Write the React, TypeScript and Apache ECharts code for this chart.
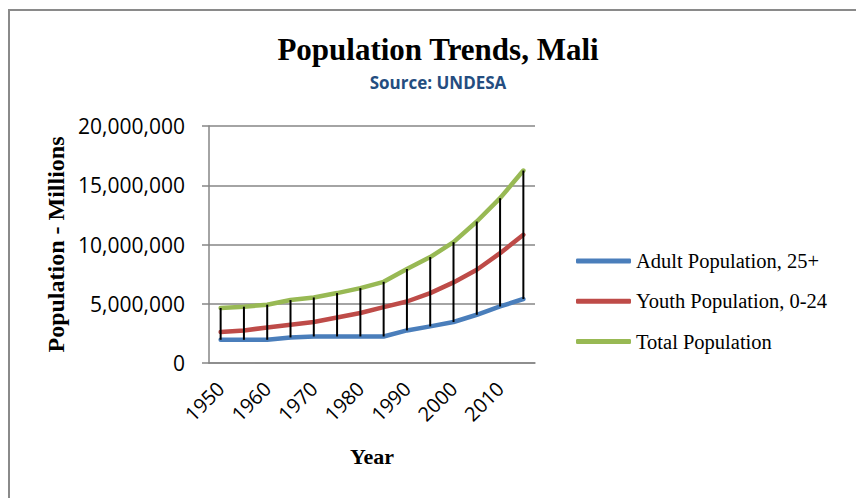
import React, { useEffect, useRef } from "react";
import * as echarts from "echarts";

const years = ["1950","1955","1960","1965","1970","1975","1980","1985","1990","1995","2000","2005","2010","2015"];
const adultPopulation = [1960000,1960000,1960000,2160000,2240000,2240000,2240000,2240000,2750000,3090000,3460000,4070000,4770000,5400000];
const youthPopulation = [2610000,2750000,3000000,3230000,3460000,3840000,4220000,4720000,5190000,5900000,6800000,7870000,9270000,10820000];
const totalPopulation = [4640000,4750000,4920000,5310000,5530000,5900000,6320000,6850000,7930000,8940000,10200000,11940000,13910000,16240000];
const seriesNames = ["Adult Population, 25+", "Youth Population, 0-24", "Total Population"];
const yTicks = { min: 0, max: 20000000, interval: 5000000 };

const SERIF = "'Liberation Serif', 'Times New Roman', serif";
const SANS = "'Open Sans', 'Liberation Sans', sans-serif";

export default function App() {
  const ref = useRef<HTMLDivElement>(null);
  useEffect(() => {
    if (!ref.current) return;
    const chart = echarts.init(ref.current, null, { renderer: "svg" });
    const dropData = years.map((_, i) => [i, adultPopulation[i], totalPopulation[i]]);
    const lineStyle = (c: string) => ({ color: c, width: 4.5, cap: "round", join: "round" });
    chart.setOption({
      animation: false,
      backgroundColor: "#ffffff",
      grid: { left: 209, right: 321, top: 126, bottom: 135, containLabel: false },
      graphic: [
        { type: "rect", shape: { x: 9, y: 10, width: 900, height: 600 }, style: { fill: "none", stroke: "#8a8a8a", lineWidth: 2 }, silent: true },
        { type: "text", x: 438, y: 49.5, style: { text: "Population Trends, Mali", font: `bold 31px ${SERIF}`, fill: "#000", textAlign: "center", textVerticalAlign: "middle" } },
        { type: "text", x: 438, y: 82, style: { text: "Source: UNDESA", font: `bold 17px ${SANS}`, fill: "#244D80", textAlign: "center", textVerticalAlign: "middle" } },
        { type: "text", x: 56, y: 244.5, rotation: Math.PI / 2, style: { text: "Population - Millions", font: `bold 24px ${SERIF}`, fill: "#000", textAlign: "center", textVerticalAlign: "middle" } },
        { type: "text", x: 372, y: 456.6, style: { text: "Year", font: `bold 22px ${SERIF}`, fill: "#000", textAlign: "center", textVerticalAlign: "middle" } },
      ],
      legend: {
        orient: "vertical",
        left: 576,
        top: 250.5,
        padding: 0,
        itemWidth: 55,
        itemHeight: 5,
        itemGap: 19.3,
        icon: "roundRect",
        data: seriesNames,
        textStyle: { fontFamily: SERIF, fontSize: 20.5, color: "#000" },
      },
      xAxis: {
        type: "category",
        data: years,
        boundaryGap: true,
        axisLine: { lineStyle: { color: "#868686", width: 1.5 } },
        axisTick: { show: false },
        axisLabel: { interval: 1, rotate: 45, margin: 22, fontFamily: SANS, fontSize: 20, color: "#000" },
        splitLine: { show: false },
      },
      yAxis: {
        type: "value",
        min: yTicks.min,
        max: yTicks.max,
        interval: yTicks.interval,
        axisLine: { show: true, lineStyle: { color: "#868686", width: 1.5 } },
        axisTick: { show: true, inside: false, length: 7, lineStyle: { color: "#868686", width: 1.5 } },
        axisLabel: { margin: 24, fontFamily: SANS, fontSize: 21, color: "#000", formatter: (v: number) => v.toLocaleString("en-US") },
        splitLine: { show: true, lineStyle: { color: "#868686", width: 1.5 } },
      },
      series: [
        { name: seriesNames[0], type: "line", data: adultPopulation, showSymbol: false, symbol: "none", color: "#4A7EBB", lineStyle: lineStyle("#4A7EBB"), z: 3 },
        { name: seriesNames[1], type: "line", data: youthPopulation, showSymbol: false, symbol: "none", color: "#BE4B48", lineStyle: lineStyle("#BE4B48"), z: 3 },
        { name: seriesNames[2], type: "line", data: totalPopulation, showSymbol: false, symbol: "none", color: "#98B954", lineStyle: lineStyle("#98B954"), z: 3 },
        {
          type: "custom",
          data: dropData,
          z: 4,
          silent: true,
          renderItem: (params: any, api: any) => {
            const lo = api.coord([api.value(0), api.value(1)]);
            const hi = api.coord([api.value(0), api.value(2)]);
            return { type: "line", shape: { x1: lo[0], y1: lo[1], x2: hi[0], y2: hi[1] }, style: { stroke: "#000", lineWidth: 2 } };
          },
        },
      ],
    });
    return () => chart.dispose();
  }, []);
  return <div ref={ref} style={{ position: "fixed", left: 0, top: 0, width: 856, height: 498 }} />;
}
